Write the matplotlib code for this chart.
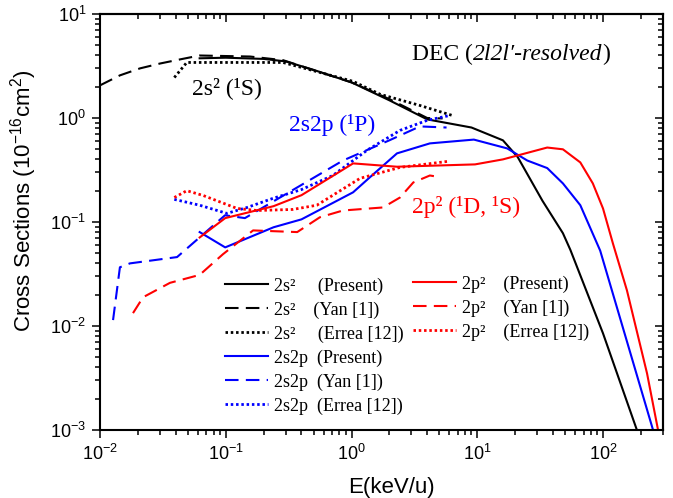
import matplotlib
matplotlib.use('Agg')
import matplotlib.pyplot as plt
from matplotlib.ticker import LogLocator, NullFormatter

plt.rcParams['font.family'] = ['Liberation Sans', 'DejaVu Sans']
plt.rcParams['mathtext.fontset'] = 'custom'
plt.rcParams['mathtext.rm'] = 'Liberation Sans'
plt.rcParams['mathtext.it'] = 'Liberation Sans:italic'
plt.rcParams['mathtext.bf'] = 'Liberation Sans:bold'

# ---------------- data (E in keV/u, cross sections in 1e-16 cm^2) ----------------
E_2s2_present = [0.062, 0.1, 0.2, 0.3, 0.5, 1.0, 2.0, 4.0, 9.0, 16, 21, 33, 48, 55, 100, 186]
S_2s2_present = [3.75, 3.8, 3.7, 3.5, 2.9, 2.2, 1.48, 0.97, 0.81, 0.61, 0.42, 0.16, 0.078, 0.054, 0.0085, 0.001]

E_2s2_yan = [0.01, 0.0144, 0.0208, 0.030, 0.0433, 0.062, 0.156, 0.285, 1.0, 2.0, 4.0, 5.3]
S_2s2_yan = [2.06, 2.57, 3.0, 3.34, 3.66, 3.99, 3.9, 3.6, 2.2, 1.52, 1.0, 0.99]

E_2s2_errea = [0.039, 0.049, 0.108, 0.285, 1.03, 1.69, 3.5, 6.3]
S_2s2_errea = [2.45, 3.42, 3.42, 3.42, 2.25, 1.69, 1.32, 1.06]

E_2s2p_present = [0.062, 0.099, 0.24, 0.40, 1.03, 1.4, 2.3, 4.2, 9.4, 17.3, 25, 36, 48, 66, 95, 250]
S_2s2p_present = [0.080, 0.057, 0.089, 0.106, 0.193, 0.269, 0.457, 0.57, 0.62, 0.51, 0.39, 0.33, 0.235, 0.145, 0.053, 0.001]

E_2s2p_yan = [0.0127, 0.0144, 0.0173, 0.041, 0.0986, 0.142, 0.37, 0.855, 2.0, 3.5, 5.7]
S_2s2p_yan = [0.0114, 0.0367, 0.040, 0.046, 0.116, 0.109, 0.215, 0.39, 0.61, 0.83, 0.81]

E_2s2p_errea = [0.039, 0.062, 0.102, 0.148, 0.238, 0.40, 0.71, 1.33, 2.43, 4.0, 6.1]
S_2s2p_errea = [0.165, 0.145, 0.121, 0.138, 0.169, 0.205, 0.28, 0.49, 0.76, 0.95, 1.06]

E_2p2_present = [0.062, 0.099, 0.24, 0.40, 1.03, 2.3, 9.6, 16, 36, 48, 66, 83, 100, 120, 155, 224, 274]
S_2p2_present = [0.071, 0.109, 0.142, 0.181, 0.366, 0.34, 0.358, 0.40, 0.52, 0.50, 0.374, 0.235, 0.135, 0.062, 0.022, 0.0035, 0.001]

E_2p2_yan = [0.0183, 0.022, 0.036, 0.062, 0.095, 0.165, 0.37, 0.56, 0.855, 1.78, 2.43, 3.1, 4.2, 5.06]
S_2p2_yan = [0.0133, 0.0189, 0.026, 0.031, 0.049, 0.083, 0.080, 0.111, 0.129, 0.138, 0.172, 0.24, 0.28, 0.27]

E_2p2_errea = [0.039, 0.049, 0.066, 0.123, 0.177, 0.34, 0.53, 1.17, 2.43, 5.85]
S_2p2_errea = [0.172, 0.20, 0.18, 0.135, 0.129, 0.132, 0.145, 0.263, 0.335, 0.383]

labels_left = ["2s\u00b2     (Present)", "2s\u00b2    (Yan [1])", "2s\u00b2     (Errea [12])",
               "2s2p  (Present)", "2s2p  (Yan [1])", "2s2p  (Errea [12])"]
labels_right = ["2p\u00b2    (Present)", "2p\u00b2    (Yan [1])", "2p\u00b2    (Errea [12])"]

xlim = (1e-2, 300)
ylim = (1e-3, 1e1)

# ---------------- figure ----------------
fig = plt.figure(figsize=(6.73, 4.98), dpi=100)
ax = fig.add_axes([100/673, 68/498, 563/673, 416/498])

BLUE = '#0000ff'
RED = '#ff0000'
BLACK = '#000000'
lw = 1.5
lw_dot = 2.0
dash = (0, (6.5, 3.5))
dot = (0, (0.9, 1.0))

h = []
h.append(ax.plot(E_2s2_present, S_2s2_present, color=BLACK, lw=lw, ls='-')[0])
h.append(ax.plot(E_2s2_yan, S_2s2_yan, color=BLACK, lw=lw, ls=dash)[0])
h.append(ax.plot(E_2s2_errea, S_2s2_errea, color=BLACK, lw=lw_dot, ls=dot)[0])
h.append(ax.plot(E_2s2p_present, S_2s2p_present, color=BLUE, lw=lw, ls='-')[0])
h.append(ax.plot(E_2s2p_yan, S_2s2p_yan, color=BLUE, lw=lw, ls=dash)[0])
h.append(ax.plot(E_2s2p_errea, S_2s2p_errea, color=BLUE, lw=lw_dot, ls=dot)[0])
hr = []
hr.append(ax.plot(E_2p2_present, S_2p2_present, color=RED, lw=lw, ls='-')[0])
hr.append(ax.plot(E_2p2_yan, S_2p2_yan, color=RED, lw=lw, ls=dash)[0])
hr.append(ax.plot(E_2p2_errea, S_2p2_errea, color=RED, lw=lw_dot, ls=dot)[0])

ax.set_xscale('log')
ax.set_yscale('log')
ax.set_xlim(*xlim)
ax.set_ylim(*ylim)

for sp in ax.spines.values():
    sp.set_linewidth(1.5)

ax.xaxis.set_major_locator(LogLocator(base=10, numticks=20))
ax.xaxis.set_minor_locator(LogLocator(base=10, subs=range(2, 10), numticks=50))
ax.yaxis.set_major_locator(LogLocator(base=10, numticks=20))
ax.yaxis.set_minor_locator(LogLocator(base=10, subs=range(2, 10), numticks=50))
ax.tick_params(which='both', direction='out', top=False, right=False, width=1.1, labelsize=13)
ax.tick_params(which='major', length=6, pad=4)
ax.tick_params(which='minor', length=3.3)

secx = ax.secondary_xaxis('top')
secy = ax.secondary_yaxis('right')
for sec in (secx, secy):
    for sp in sec.spines.values():
        sp.set_linewidth(1.5)
secx.xaxis.set_major_locator(LogLocator(base=10, numticks=20))
secx.xaxis.set_minor_locator(LogLocator(base=10, subs=range(2, 10), numticks=50))
secx.xaxis.set_major_formatter(NullFormatter())
secx.xaxis.set_minor_formatter(NullFormatter())
secy.yaxis.set_major_locator(LogLocator(base=10, numticks=20))
secy.yaxis.set_minor_locator(LogLocator(base=10, subs=range(2, 10), numticks=50))
secy.yaxis.set_major_formatter(NullFormatter())
secy.yaxis.set_minor_formatter(NullFormatter())
for sec in (secx, secy):
    sec.tick_params(which='both', direction='in', width=1.1)
    sec.tick_params(which='major', length=6)
    sec.tick_params(which='minor', length=3.3)

ax.set_ylabel("Cross Sections (10$^{-16}$cm$^2$)", fontsize=16)
ax.yaxis.set_label_coords(-0.108, 0.55)
ax.set_xlabel("E(keV/u)", fontsize=16)
ax.xaxis.set_label_coords(0.517, -0.113)

serif = 'Liberation Serif'
legprops = dict(frameon=False, prop={'family': serif, 'size': 13}, handlelength=2.4,
                handletextpad=0.3, labelspacing=0.37, borderpad=0, borderaxespad=0,
                loc='upper left')
leg1 = ax.legend(h, labels_left, bbox_to_anchor=(0.222, 0.367), **legprops)
ax.add_artist(leg1)
leg2 = ax.legend(hr, labels_right, bbox_to_anchor=(0.556, 0.372), **legprops)

# annotations
t1 = ax.text(0.554, 0.889, "DEC (", transform=ax.transAxes, family=serif, size=17,
             va='baseline', ha='left')
t2 = ax.annotate("2l2l\u2032-resolved", xy=(1, 0), xycoords=t1, va='bottom', ha='left',
                 family=serif, style='italic', size=17)
t3 = ax.annotate(")", xy=(1, 0), xycoords=t2, va='bottom', ha='left', family=serif, size=17)

ax.text(0.163, 0.808, "2s\u00b2 (\u00b9S)", transform=ax.transAxes, family=serif, size=17,
        va='baseline', color=BLACK)
ax.text(0.336, 0.719, "2s2p (\u00b9P)", transform=ax.transAxes, family=serif, size=17,
        va='baseline', color=BLUE)
ax.text(0.554, 0.522, "2p\u00b2 (\u00b9D, \u00b9S)", transform=ax.transAxes, family=serif, size=17,
        va='baseline', color=RED)

fig.savefig('out.png', dpi=100)
